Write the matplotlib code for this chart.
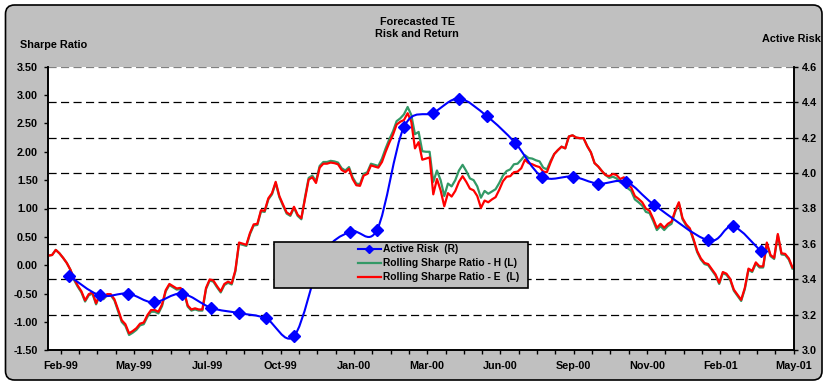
import numpy as np
import matplotlib
matplotlib.use("Agg")
import matplotlib.pyplot as plt
from matplotlib.path import Path
from matplotlib.patches import PathPatch, Rectangle, FancyBboxPatch
from matplotlib.lines import Line2D
from matplotlib.ticker import MultipleLocator, FixedLocator, FormatStrFormatter

plt.rcParams["font.family"] = ["Liberation Sans", "DejaVu Sans"]
plt.rcParams["font.weight"] = "bold"
plt.rcParams["font.size"] = 7.8

# Rolling Sharpe ratios, sampled every 3 trading days (day 0 = Feb-99)
sharpe_e = [0.17, 0.18, 0.27, 0.21, 0.13, 0.04, -0.08, -0.24, -0.36, -0.46,
            -0.62, -0.51, -0.48, -0.67, -0.51, -0.58, -0.51, -0.51, -0.60, -0.78,
            -0.97, -1.04, -1.20, -1.16, -1.11, -1.03, -1.01, -0.88, -0.79, -0.79,
            -0.82, -0.69, -0.44, -0.33, -0.37, -0.41, -0.40, -0.46, -0.71, -0.78,
            -0.76, -0.78, -0.78, -0.40, -0.25, -0.27, -0.37, -0.46, -0.33, -0.29,
            -0.32, -0.09, 0.40, 0.38, 0.36, 0.57, 0.72, 0.73, 0.97, 0.96,
            1.18, 1.27, 1.47, 1.22, 1.07, 0.93, 0.89, 1.03, 0.89, 0.83,
            1.17, 1.51, 1.55, 1.45, 1.72, 1.79, 1.79, 1.81, 1.80, 1.78,
            1.68, 1.64, 1.70, 1.52, 1.41, 1.40, 1.58, 1.61, 1.76, 1.74,
            1.72, 1.82, 2.00, 2.16, 2.30, 2.48, 2.53, 2.56, 2.68, 2.53,
            2.06, 2.17, 1.86, 1.88, 1.90, 1.25, 1.52, 1.32, 1.04, 1.27,
            1.21, 1.31, 1.47, 1.57, 1.47, 1.35, 1.32, 1.22, 1.01, 1.14,
            1.11, 1.16, 1.20, 1.33, 1.48, 1.56, 1.57, 1.64, 1.65, 1.71,
            1.86, 1.80, 1.78, 1.75, 1.73, 1.65, 1.64, 1.81, 1.96, 2.03,
            2.09, 2.06, 2.27, 2.29, 2.25, 2.24, 2.24, 2.10, 1.99, 1.80,
            1.74, 1.66, 1.59, 1.57, 1.61, 1.59, 1.52, 1.55, 1.42, 1.37,
            1.22, 1.17, 1.11, 1.00, 0.96, 0.82, 0.66, 0.73, 0.66, 0.73,
            0.77, 0.96, 1.11, 0.83, 0.72, 0.65, 0.46, 0.25, 0.12, 0.04,
            0.02, -0.07, -0.16, -0.31, -0.12, -0.15, -0.24, -0.43, -0.52, -0.61,
            -0.40, -0.06, -0.10, 0.05, -0.02, -0.02, 0.40, 0.18, 0.13, 0.55,
            0.21, 0.20, 0.12, -0.04]

sharpe_h = [0.17, 0.18, 0.27, 0.21, 0.13, 0.04, -0.08, -0.26, -0.38, -0.48,
            -0.64, -0.53, -0.50, -0.69, -0.53, -0.60, -0.53, -0.53, -0.62, -0.81,
            -1.00, -1.07, -1.23, -1.19, -1.14, -1.06, -1.04, -0.91, -0.82, -0.82,
            -0.85, -0.72, -0.46, -0.35, -0.39, -0.43, -0.42, -0.48, -0.73, -0.80,
            -0.78, -0.80, -0.80, -0.42, -0.27, -0.29, -0.39, -0.48, -0.35, -0.31,
            -0.34, -0.11, 0.38, 0.36, 0.34, 0.55, 0.70, 0.71, 0.95, 0.94,
            1.16, 1.25, 1.45, 1.20, 1.05, 0.91, 0.87, 1.01, 0.87, 0.81,
            1.20, 1.54, 1.58, 1.48, 1.75, 1.82, 1.82, 1.84, 1.83, 1.81,
            1.71, 1.67, 1.73, 1.55, 1.44, 1.43, 1.61, 1.64, 1.79, 1.77,
            1.75, 1.88, 2.06, 2.22, 2.36, 2.54, 2.59, 2.66, 2.79, 2.65,
            2.31, 2.35, 2.01, 2.00, 2.00, 1.47, 1.67, 1.50, 1.22, 1.44,
            1.39, 1.50, 1.67, 1.77, 1.66, 1.53, 1.50, 1.39, 1.19, 1.31,
            1.26, 1.30, 1.34, 1.45, 1.58, 1.66, 1.69, 1.78, 1.79, 1.86,
            1.94, 1.89, 1.88, 1.85, 1.83, 1.72, 1.69, 1.84, 1.96, 2.03,
            2.09, 2.06, 2.27, 2.29, 2.25, 2.24, 2.24, 2.10, 1.99, 1.80,
            1.74, 1.66, 1.59, 1.54, 1.56, 1.53, 1.46, 1.49, 1.36, 1.31,
            1.16, 1.11, 1.05, 0.94, 0.92, 0.78, 0.62, 0.69, 0.62, 0.69,
            0.73, 0.94, 1.09, 0.81, 0.70, 0.63, 0.44, 0.23, 0.10, 0.02,
            0.00, -0.09, -0.18, -0.33, -0.14, -0.17, -0.26, -0.45, -0.54, -0.63,
            -0.42, -0.08, -0.12, 0.03, -0.04, -0.04, 0.38, 0.16, 0.11, 0.53,
            0.19, 0.18, 0.10, -0.06]

# Monthly forecast of active risk (right axis)
risk_days = [7, 32, 55, 76, 99, 123, 146, 168, 191, 214, 237, 259, 281,
             305, 326, 349, 372, 394, 419, 440, 463, 486, 530, 550, 573]
risk_values = [3.42, 3.31, 3.32, 3.27, 3.32, 3.24, 3.21, 3.18, 3.08, 3.53,
               3.67, 3.68, 4.26, 4.34, 4.42, 4.32, 4.17, 3.98, 3.98, 3.94,
               3.95, 3.82, 3.62, 3.70, 3.56]

tick_labels = ["Feb-99", "May-99", "Jul-99", "Oct-99", "Jan-00", "Mar-00",
               "Jun-00", "Sep-00", "Nov-00", "Feb-01", "May-01"]
legend_labels = ["Active Risk  (R)", "Rolling Sharpe Ratio - H (L)",
                 "Rolling Sharpe Ratio - E  (L)"]

days = np.arange(-10, -10 + 3 * len(sharpe_e), 3)

SR_LIM = (-1.5, 3.5)
RISK_LIM = (3.0, 4.6)


def risk_to_sharpe(v):
    return SR_LIM[0] + (v - RISK_LIM[0]) / (RISK_LIM[1] - RISK_LIM[0]) * (SR_LIM[1] - SR_LIM[0])


def smooth_path(xs, ys):
    # Catmull-Rom style bezier through the points, like a spreadsheet "smoothed line"
    pts = np.column_stack([xs, ys]).astype(float)
    verts = [pts[0]]
    codes = [Path.MOVETO]
    n = len(pts)
    for i in range(n - 1):
        p0 = pts[max(i - 1, 0)]
        p1 = pts[i]
        p2 = pts[i + 1]
        p3 = pts[min(i + 2, n - 1)]
        verts += [p1 + (p2 - p0) / 6, p2 - (p3 - p1) / 6, p2]
        codes += [Path.CURVE4] * 3
    return Path(verts, codes)


fig = plt.figure(figsize=(8.24, 3.82), dpi=100, facecolor="white")

# grey rounded chart area
bg = FancyBboxPatch((5.5, 2), 816.5, 375, boxstyle="round,pad=0,rounding_size=9",
                    facecolor="#C0C0C0", edgecolor="black", linewidth=1.2,
                    transform=None, zorder=-1)
fig.add_artist(bg)

ax = fig.add_axes([47.7 / 824, 1 - 350.3 / 382, 746 / 824, 283.6 / 382])
ax.set_facecolor("white")
ax2 = ax.twinx()

# dashed grid at the active-risk ticks
for v in np.arange(3.2, 4.61, 0.2):
    col = "#808080" if v > 4.5 else "black"
    ax.axhline(risk_to_sharpe(v), color=col, linewidth=0.9, linestyle=(0, (6.5, 3.5)), zorder=0.5)

ax.plot(days, sharpe_h, color="#339966", linewidth=1.6, zorder=2)
ax.plot(days, sharpe_e, color="#FF0000", linewidth=1.6, zorder=3)

ax2.add_patch(PathPatch(smooth_path(risk_days, risk_values), fill=False,
                        edgecolor="#0000FF", linewidth=1.5, zorder=2))
ax2.plot(risk_days, risk_values, linestyle="none", marker="D", markersize=6.3,
         color="#0000FF", zorder=3)

ax.set_xlim(-10.6, 600)
ax.set_ylim(*SR_LIM)
ax2.set_ylim(*RISK_LIM)

ax.xaxis.set_major_locator(FixedLocator(np.arange(0, 601, 60)))
ax.xaxis.set_minor_locator(MultipleLocator(15))
ax.set_xticklabels(tick_labels)
ax.yaxis.set_major_locator(MultipleLocator(0.5))
ax.yaxis.set_major_formatter(FormatStrFormatter("%.2f"))
ax2.yaxis.set_major_locator(MultipleLocator(0.2))
ax2.yaxis.set_major_formatter(FormatStrFormatter("%.1f"))

ax.tick_params(axis="x", which="both", direction="out", length=3, width=1, pad=5, labelsize=7.8)
ax.tick_params(axis="y", direction="out", length=3, width=1, pad=4, labelsize=7.8)
ax2.tick_params(axis="y", direction="out", length=3, width=1, pad=3, labelsize=7.8)

for a in (ax, ax2):
    a.spines["top"].set_visible(False)
    for s in ("left", "right", "bottom"):
        a.spines[s].set_linewidth(1.2)
        a.spines[s].set_color("black")

# legend panel
ax2.add_patch(Rectangle((0.303, 0.219), 0.341, 0.164, transform=ax2.transAxes,
                        facecolor="#C0C0C0", edgecolor="black", linewidth=1.2, zorder=10))
handles = [Line2D([], [], color="#0000FF", linewidth=1.5, marker="D", markersize=4.5),
           Line2D([], [], color="#339966", linewidth=1.6),
           Line2D([], [], color="#FF0000", linewidth=1.6)]
leg = ax2.legend(handles, legend_labels, loc="upper left", bbox_to_anchor=(0.416, 0.374),
                 frameon=False, borderpad=0, borderaxespad=0, handlelength=2.2,
                 handletextpad=0.25, labelspacing=0.4, fontsize=7.4)
leg.set_zorder(11)

fig.text(417 / 824, 1 - 22 / 382, "Forecasted TE", ha="center", va="center", fontsize=7.8)
fig.text(417 / 824, 1 - 34 / 382, "Risk and Return", ha="center", va="center", fontsize=7.8)
fig.text(20.5 / 824, 1 - 44.5 / 382, "Sharpe Ratio", ha="left", va="center", fontsize=7.8)
fig.text(821 / 824, 1 - 39 / 382, "Active Risk", ha="right", va="center", fontsize=7.8)

fig.savefig("out.png", dpi=100, facecolor="white")
